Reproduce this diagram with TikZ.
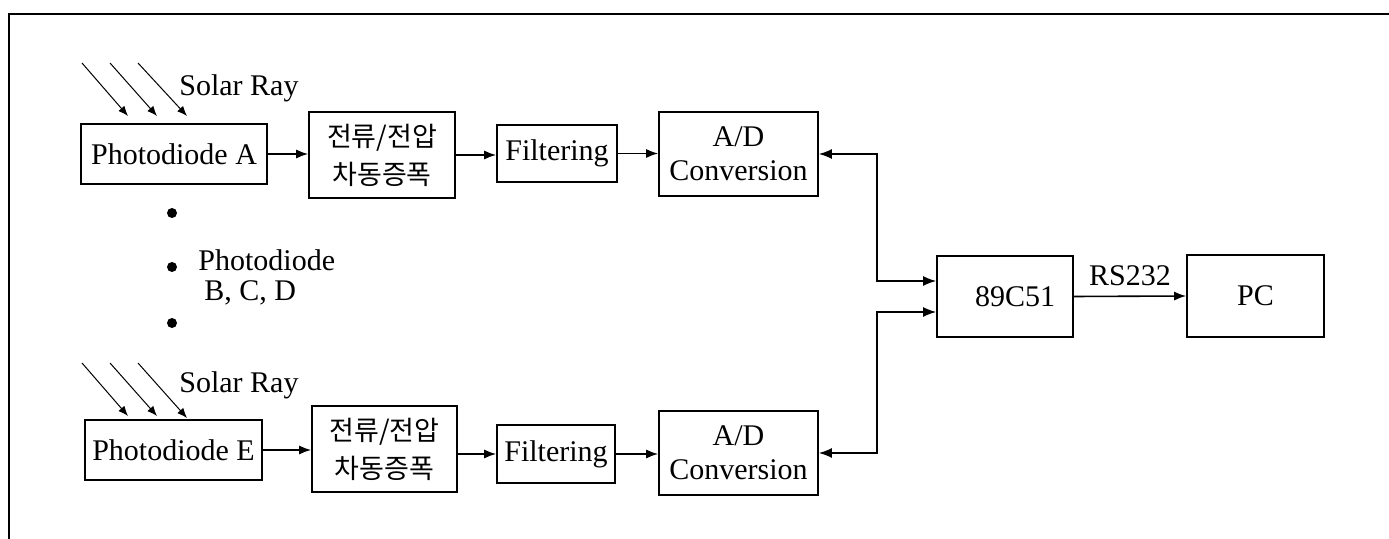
\documentclass[tikz,border=0pt]{standalone}
\usepackage{fontspec}
\setmainfont{Liberation Serif}
\newfontfamily\kor{Noto Sans CJK KR}
\usetikzlibrary{arrows.meta}
\tikzset{
  blk/.style={draw, line width=0.8pt, inner sep=0pt, align=center,
    font=\fontsize{15}{17}\selectfont},
  korblk/.style={blk, font=\kor\fontsize{13.5}{19}\selectfont},
  txt/.style={inner sep=0pt, font=\fontsize{15}{17}\selectfont},
  arr/.style={-{Latex[length=6pt,width=4.5pt]}, line width=0.8pt},
  biarr/.style={{Latex[length=6.5pt,width=5pt]}-{Latex[length=6.5pt,width=5pt]}, line width=0.8pt},
  rayarr/.style={-{Latex[length=5pt,width=4pt]}, line width=0.5pt},
  bigdot/.style={circle, fill, minimum size=5pt, inner sep=0pt}
}
\begin{document}
\begin{tikzpicture}[x=0.5pt,y=-0.5pt]
\useasboundingbox (0,0) rectangle (1389,539);
% frame
\draw[line width=1.2pt] (9,539) -- (9,14) -- (1389,14);

% top row
\node[blk, minimum width=93pt, minimum height=30pt] (pdA) at (174,154) {Photodiode A};
\node[korblk, minimum width=73pt, minimum height=43pt] (ampA) at (382,155) {전류/전압\\차동증폭};
\node[blk, minimum width=60pt, minimum height=28.5pt] (filtA) at (557,153.5) {Filtering};
\node[blk, minimum width=79.5pt, minimum height=42pt] (adA) at (738.5,154) {A/D\\Conversion};

% bottom row
\node[blk, minimum width=88.5pt, minimum height=30pt] (pdE) at (173.5,450) {Photodiode E};
\node[korblk, minimum width=72.5pt, minimum height=43pt] (ampE) at (384.5,449) {전류/전압\\차동증폭};
\node[blk, minimum width=59pt, minimum height=29pt] (filtE) at (556,454) {Filtering};
\node[blk, minimum width=79.5pt, minimum height=42pt] (adE) at (738.5,453) {A/D\\Conversion};

% right
\node[blk, minimum width=68pt, minimum height=40.5pt] (mcu) at (1005,296.5) {\hspace*{10pt}89C51};
\node[blk, minimum width=68.5pt, minimum height=41pt] (pc) at (1255.5,296) {PC};

% solar rays
\node[txt, anchor=west] (srA) at (179,88) {Solar Ray};
\node[txt, anchor=west] (srE) at (179,385) {Solar Ray};
\coordinate (a1s) at (82,63);  \coordinate (a1e) at (128,116);
\coordinate (a2s) at (110,63); \coordinate (a2e) at (157,116);
\coordinate (a3s) at (138,63); \coordinate (a3e) at (187,116);
\coordinate (e1s) at (82,363);  \coordinate (e1e) at (128,416);
\coordinate (e2s) at (110,363); \coordinate (e2e) at (157,416);
\coordinate (e3s) at (138,363); \coordinate (e3e) at (187,418);
\foreach \i in {1,2,3} {
  \draw[rayarr] (a\i s) -- (a\i e);
  \draw[rayarr] (e\i s) -- (e\i e);
}

% dots and middle label
\node[bigdot] (d1) at (172,213) {};
\node[bigdot] (d2) at (172,267) {};
\node[bigdot] (d3) at (172,323) {};
\node[txt, anchor=west] (pbcd) at (198,260) {Photodiode};
\node[txt, anchor=west] (bcd) at (204,293) {B, C, D};

% connectors
\draw[arr] (pdA.east) -- (pdA.east -| ampA.west);
\draw[arr] (ampA.east) -- (ampA.east -| filtA.west);
\draw[arr] (filtA.east) -- (filtA.east -| adA.west);
\draw[arr] (pdE.east) -- (pdE.east -| ampE.west);
\draw[arr] (filtE.west -| ampE.east) -- (filtE.west);
\draw[arr] (filtE.east) -- (filtE.east -| adE.west);

\coordinate (jA) at (877,281);
\coordinate (jE) at (877,312);
\draw[biarr] (adA.east) -| (jA) -- (jA -| mcu.west);
\draw[biarr] (adE.east) -| (jE) -- (jE -| mcu.west);

\draw[arr] (mcu.east) -- (pc.west) node[txt, midway, above=5pt] (rs) {RS232};
\end{tikzpicture}
\end{document}
